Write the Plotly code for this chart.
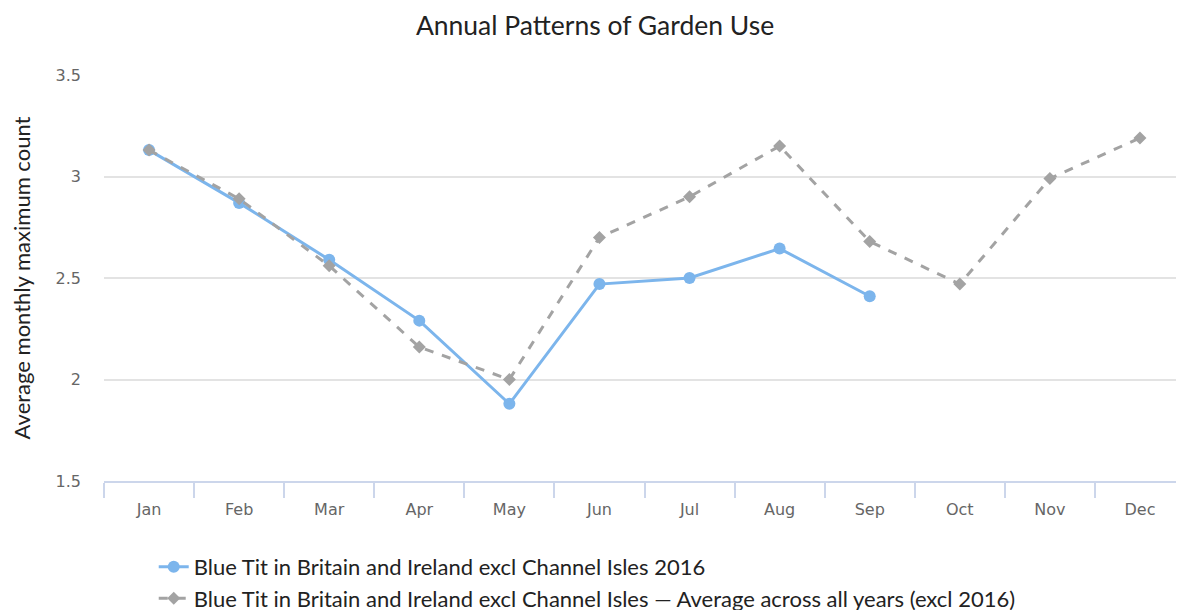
import plotly.graph_objects as go

months = ["Jan", "Feb", "Mar", "Apr", "May", "Jun", "Jul", "Aug", "Sep", "Oct", "Nov", "Dec"]
blue_2016 = [3.13, 2.87, 2.59, 2.29, 1.88, 2.47, 2.50, 2.645, 2.41, None, None, None]
avg_all_years = [3.13, 2.89, 2.56, 2.16, 2.00, 2.70, 2.90, 3.15, 2.68, 2.47, 2.99, 3.19]
y_ticks = [1.5, 2, 2.5, 3, 3.5]
y_tick_text = ["1.5", "2", "2.5", "3", "3.5"]

name_2016 = "Blue Tit in Britain and Ireland excl Channel Isles 2016"
name_avg = "Blue Tit in Britain and Ireland excl Channel Isles \u2014 Average across all years (excl 2016)"

fig = go.Figure()
fig.add_trace(go.Scatter(
    x=months, y=blue_2016, name=name_2016, mode="lines+markers",
    line=dict(color="#7cb5ec", width=3),
    marker=dict(symbol="circle", size=12, color="#7cb5ec"),
))
fig.add_trace(go.Scatter(
    x=months, y=avg_all_years, name=name_avg, mode="lines+markers",
    line=dict(color="#a3a3a3", width=3, dash="dash"),
    marker=dict(symbol="diamond", size=10, color="#a3a3a3"),
))

fig.update_layout(
    width=1184, height=610,
    margin=dict(l=96, r=7, t=67, b=137, autoexpand=False),
    paper_bgcolor="white", plot_bgcolor="white",
    font=dict(family="Lato, Open Sans, sans-serif", color="#222222"),
    title=dict(text="Annual Patterns of Garden Use", x=0.4958, xref="container", xanchor="center",
               y=0.971, yanchor="middle", font=dict(size=26.5, color="#222222")),
    xaxis=dict(
        type="category", categoryorder="array", categoryarray=months,
        range=[-0.5, 11.5], tickson="boundaries", ticks="outside", ticklen=15,
        tickcolor="#ccd6eb", tickwidth=1.5, showline=True, linecolor="#ccd6eb", linewidth=1.5,
        showgrid=False, tickfont=dict(family="DejaVu Sans", size=16, color="#666666"),
        ticklabelstandoff=13,
    ),
    yaxis=dict(
        range=[1.5, 3.5], tickvals=y_ticks, ticktext=y_tick_text,
        showgrid=True, gridcolor="#e3e3e3", gridwidth=1.5, zeroline=False,
        tickfont=dict(family="DejaVu Sans", size=16, color="#666666"), ticks="",
        ticklabelstandoff=22,
        title=dict(text="Average monthly maximum count", font=dict(size=22, color="#222222"),
                   standoff=21),
    ),
    legend=dict(
        orientation="v", x=0.046, xanchor="left", y=-0.16, yanchor="top",
        font=dict(size=22, color="#222222"), itemwidth=30, tracegroupgap=0,
        bgcolor="rgba(0,0,0,0)",
    ),
    showlegend=True,
)

fig.write_html("out.html")
